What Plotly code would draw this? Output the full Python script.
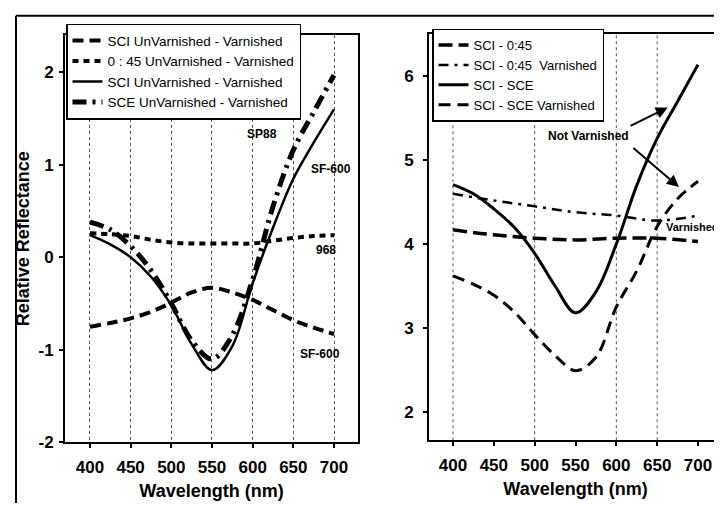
import plotly.graph_objects as go

# ---------------- data ----------------
wl = [400, 425, 450, 475, 500, 525, 550, 575, 600, 625, 650, 675, 700]

# left panel: UnVarnished - Varnished differences
sci_dash_left = [-0.75, -0.71, -0.66, -0.59, -0.49, -0.38, -0.33, -0.38, -0.46, -0.57, -0.68, -0.76, -0.83]
o45_left = [0.26, 0.25, 0.23, 0.19, 0.16, 0.15, 0.15, 0.15, 0.15, 0.18, 0.21, 0.23, 0.24]
sci_solid_left = [0.24, 0.14, 0.0, -0.21, -0.52, -0.94, -1.22, -0.96, -0.28, 0.32, 0.85, 1.24, 1.6]
sce_left = [0.38, 0.3, 0.12, -0.14, -0.5, -0.9, -1.1, -0.84, -0.24, 0.55, 1.16, 1.57, 1.97]

# right panel
wl50 = [400, 450, 500, 550, 600, 650, 700]
sci_045 = [4.17, 4.11, 4.07, 4.05, 4.07, 4.07, 4.03]
sci_045_var = [4.6, 4.52, 4.45, 4.38, 4.34, 4.28, 4.34]
sci_sce = [4.71, 4.6, 4.42, 4.2, 3.89, 3.5, 3.18, 3.43, 4.0, 4.7, 5.26, 5.7, 6.14]
sci_sce_var = [3.62, 3.52, 3.39, 3.19, 2.92, 2.67, 2.49, 2.65, 3.25, 3.68, 4.21, 4.54, 4.75]

x_ticks = [400, 450, 500, 550, 600, 650, 700]
y_ticks_left = [-2, -1, 0, 1, 2]
y_ticks_right = [2, 3, 4, 5, 6]
grid_right = [400, 500, 600, 650]

FONT = "Liberation Sans, Arial, sans-serif"

fig = go.Figure()

# left traces
fig.add_trace(go.Scatter(x=wl, y=sci_dash_left, mode="lines", name="SCI UnVarnished - Varnished",
                         line=dict(color="black", width=4, dash="11px,6px", shape="spline"),
                         xaxis="x", yaxis="y", legend="legend"))
fig.add_trace(go.Scatter(x=wl, y=o45_left, mode="lines", name="0 : 45 UnVarnished - Varnished",
                         line=dict(color="black", width=4, dash="6px,5px", shape="spline"),
                         xaxis="x", yaxis="y", legend="legend"))
fig.add_trace(go.Scatter(x=wl, y=sci_solid_left, mode="lines", name="SCI UnVarnished - Varnished",
                         line=dict(color="black", width=2.5, shape="spline"),
                         xaxis="x", yaxis="y", legend="legend"))
fig.add_trace(go.Scatter(x=wl, y=sce_left, mode="lines", name="SCE UnVarnished - Varnished",
                         line=dict(color="black", width=5, dash="14px,6px,3px,6px", shape="spline"),
                         xaxis="x", yaxis="y", legend="legend"))

# right traces
fig.add_trace(go.Scatter(x=wl50, y=sci_045, mode="lines", name="SCI - 0:45",
                         line=dict(color="black", width=3.5, dash="14px,6px", shape="spline"),
                         xaxis="x2", yaxis="y2", legend="legend2"))
fig.add_trace(go.Scatter(x=wl50, y=sci_045_var, mode="lines", name="SCI - 0:45  Varnished",
                         line=dict(color="black", width=2.5, dash="10px,6px,3px,6px", shape="spline"),
                         xaxis="x2", yaxis="y2", legend="legend2"))
fig.add_trace(go.Scatter(x=wl, y=sci_sce, mode="lines", name="SCI - SCE",
                         line=dict(color="black", width=3, shape="spline"),
                         xaxis="x2", yaxis="y2", legend="legend2"))
fig.add_trace(go.Scatter(x=wl, y=sci_sce_var, mode="lines", name="SCI - SCE Varnished",
                         line=dict(color="black", width=3, dash="12px,7px", shape="spline"),
                         xaxis="x2", yaxis="y2", legend="legend2"))

W, H = 722, 505
def px(xp):
    return xp / W
def py(yp):
    return 1 - yp / H

axis_common = dict(
    showline=True, linecolor="black", linewidth=2, mirror=True,
    ticks="outside", ticklen=4, tickwidth=1.5, tickcolor="black",
    tickfont=dict(family=FONT, size=17, color="black", weight="bold"),
    zeroline=False,
)

tick_text = [str(v) for v in x_ticks]
title_font = dict(family=FONT, size=18, color="black", weight="bold")

fig.update_layout(
    width=W, height=H, autosize=False,
    margin=dict(l=0, r=0, t=0, b=0),
    paper_bgcolor="white", plot_bgcolor="white",
    font=dict(family=FONT, color="black"),
    xaxis=dict(domain=[px(57), px(350)], range=[369.3, 729.5], tickvals=x_ticks, ticktext=tick_text,
               showgrid=True, gridcolor="#555", griddash="dot", gridwidth=1,
               ticklabelstandoff=4,
               title=dict(text="Wavelength (nm)", font=title_font, standoff=9),
               anchor="y", **axis_common),
    yaxis=dict(domain=[py(443), py(28)], range=[-2, 2.4], tickvals=y_ticks_left,
               ticktext=[str(v) for v in y_ticks_left],
               showgrid=False, ticklabelstandoff=2,
               title=dict(text="Relative Reflectance", font=title_font, standoff=4),
               anchor="x", **axis_common),
    xaxis2=dict(domain=[px(421), px(714)], range=[370.6, 729.4], tickvals=x_ticks, ticktext=tick_text,
                showgrid=False, ticklabelstandoff=4,
                title=dict(text="Wavelength (nm)", font=title_font, standoff=9),
                anchor="y2", **axis_common),
    yaxis2=dict(domain=[py(441), py(27)], range=[1.66, 6.5], tickvals=y_ticks_right,
                ticktext=[str(v) for v in y_ticks_right], ticklabelstandoff=6,
                showgrid=False, anchor="x2", **axis_common),
    legend=dict(x=px(58), y=py(16), xanchor="left", yanchor="top",
                bgcolor="white", bordercolor="black", borderwidth=1.5,
                font=dict(family=FONT, size=13.5, color="black"),
                itemwidth=30, tracegroupgap=0),
    legend2=dict(x=px(424), y=py(21), xanchor="left", yanchor="top",
                 bgcolor="white", bordercolor="black", borderwidth=1.5,
                 font=dict(family=FONT, size=13, color="black"),
                 itemwidth=30, tracegroupgap=0),
    showlegend=True,
)

# dotted gridlines on right panel
for g in grid_right:
    fig.add_shape(type="line", xref="x2", yref="y2 domain", x0=g, x1=g, y0=0, y1=1,
                  line=dict(color="#555", width=1, dash="dot"), layer="below")

ann_font = dict(family=FONT, size=12, color="black", weight="bold")
labels_left = [("SP88", 612, 1.33), ("SF-600", 696, 0.95), ("968", 690, 0.08), ("SF-600", 683, -1.05)]
for t, xx, yy in labels_left:
    fig.add_annotation(x=xx, y=yy, xref="x", yref="y", text=t, showarrow=False, font=ann_font)

fig.add_annotation(x=566, y=5.29, xref="x2", yref="y2", text="Not Varnished", showarrow=False, font=ann_font)
fig.add_annotation(x=px(713), y=4.20, xref="paper", yref="y2", text="Varnished", showarrow=False,
                   xanchor="right", font=dict(family=FONT, size=11, color="black", weight="bold"))
# arrows
for (tx, ty, hx, hy) in [(615.5, 5.40, 663, 5.63), (619, 5.16, 676.7, 4.68)]:
    fig.add_annotation(x=hx, y=hy, ax=tx, ay=ty, xref="x2", yref="y2", axref="x2", ayref="y2",
                       text="", showarrow=True, arrowhead=2, arrowsize=1.2, arrowwidth=2, arrowcolor="black")

# outer frame lines (scan border)
fig.add_shape(type="line", xref="paper", yref="paper", x0=px(8), x1=px(712), y0=py(8), y1=py(8),
              line=dict(color="black", width=2))
fig.add_shape(type="line", xref="paper", yref="paper", x0=px(8), x1=px(8), y0=py(8), y1=0,
              line=dict(color="black", width=2))

fig.write_html("out.html")
